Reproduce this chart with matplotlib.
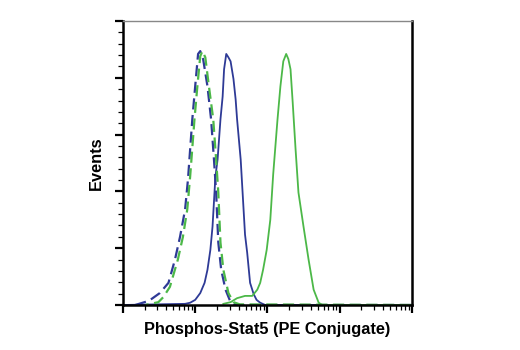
import numpy as np
import matplotlib
matplotlib.use("Agg")
import matplotlib.pyplot as plt
from matplotlib.ticker import FixedLocator, NullFormatter, LogLocator

# x values are log10 of fluorescence intensity, y is event count (arbitrary units)
blue_dash_log = [0.17, 0.35, 0.40, 0.51, 0.63, 0.72, 0.79, 0.86, 0.90, 0.96, 1.00, 1.04, 1.07,
                 1.11, 1.17, 1.22, 1.26, 1.29, 1.32, 1.36, 1.42, 1.49, 1.56, 4.0]
blue_dash_y = [0.0, 0.07, 0.11, 0.21, 0.39, 0.80, 1.20, 1.68, 2.21, 3.27, 3.85, 4.42, 4.47,
               4.33, 3.85, 3.27, 2.56, 1.98, 1.10, 0.62, 0.27, 0.05, 0.0, 0.0]

green_dash_log = [0.31, 0.49, 0.56, 0.65, 0.76, 0.83, 0.89, 0.93, 0.99, 1.03, 1.07, 1.10,
                  1.14, 1.19, 1.25, 1.29, 1.32, 1.35, 1.39, 1.46, 1.53, 1.62, 4.0]
green_dash_y = [0.0, 0.05, 0.14, 0.32, 0.80, 1.20, 1.68, 2.26, 3.27, 3.85, 4.38, 4.47,
                4.36, 3.85, 3.27, 2.56, 1.98, 1.10, 0.62, 0.21, 0.05, 0.01, 0.0]

blue_solid_log = [0.0, 0.86, 0.93, 1.00, 1.07, 1.13, 1.17, 1.21, 1.24, 1.28, 1.31, 1.35, 1.38,
                  1.40, 1.43, 1.46, 1.49, 1.53, 1.56, 1.58, 1.63, 1.67, 1.69, 1.72, 1.76,
                  1.81, 1.85, 1.90, 1.97, 4.0]
blue_solid_y = [0.0, 0.02, 0.04, 0.09, 0.21, 0.39, 0.62, 0.97, 1.38, 2.26, 2.56, 3.27, 3.67,
                4.15, 4.42, 4.36, 4.29, 3.98, 3.62, 3.27, 2.56, 1.68, 1.24, 0.92, 0.39,
                0.19, 0.09, 0.04, 0.0, 0.0]

green_solid_log = [1.39, 1.49, 1.58, 1.69, 1.79, 1.86, 1.90, 1.94, 1.99, 2.04, 2.08, 2.14,
                   2.18, 2.22, 2.26, 2.29, 2.32, 2.35, 2.39, 2.43, 2.50, 2.57, 2.64, 2.71,
                   2.76, 4.0]
green_solid_y = [0.02, 0.05, 0.12, 0.16, 0.16, 0.27, 0.39, 0.62, 0.97, 1.50, 2.30, 3.27,
                 3.85, 4.29, 4.42, 4.33, 4.15, 3.57, 2.74, 1.98, 1.38, 0.80, 0.27, 0.04,
                 0.0, 0.0]

blue = '#2e3a96'
green = '#4cb848'

fig = plt.figure(figsize=(5.2, 3.5), dpi=100)
ax = fig.add_axes([0.2365, 0.1286, 0.5555, 0.8114])

ax.plot(np.power(10, blue_solid_log), blue_solid_y, color=blue, lw=1.3)
ax.plot(np.power(10, green_solid_log), green_solid_y, color=green, lw=1.3)
ax.plot(np.power(10, blue_dash_log), blue_dash_y, color=blue, lw=1.6,
        linestyle=(0, (5, 2.5)))
ax.plot(np.power(10, green_dash_log), green_dash_y, color=green, lw=1.6,
        linestyle=(3.5, (5, 2.5)))

ax.set_xscale('log')
ax.set_xlim(1, 1e4)
ax.set_ylim(0, 5)

ax.xaxis.set_major_locator(LogLocator(base=10, numticks=10))
ax.xaxis.set_minor_locator(LogLocator(base=10, subs=np.arange(2, 10), numticks=20))
ax.xaxis.set_major_formatter(NullFormatter())
ax.xaxis.set_minor_formatter(NullFormatter())
ax.yaxis.set_major_locator(FixedLocator([0, 1, 2, 3, 4, 5]))
ax.yaxis.set_minor_locator(FixedLocator(np.arange(0, 5.01, 0.2)))
ax.yaxis.set_major_formatter(NullFormatter())

ax.tick_params(axis='both', which='major', direction='out', length=6, width=1.6, color='black')
ax.tick_params(axis='both', which='minor', direction='out', length=3.5, width=0.9, color='black')

for s in ['left', 'bottom', 'right']:
    ax.spines[s].set_linewidth(1.8)
    ax.spines[s].set_color('black')
ax.spines['top'].set_linewidth(1.0)
ax.spines['top'].set_color('#888888')

font = {'family': ['Liberation Sans Narrow', 'Liberation Sans', 'DejaVu Sans'],
        'weight': 'bold', 'size': 11.8}
ax.set_xlabel('Phosphos-Stat5 (PE Conjugate)', fontdict=font, labelpad=3)
ax.set_ylabel('Events', fontdict=font, labelpad=4)

fig.savefig('out.png', dpi=100)
